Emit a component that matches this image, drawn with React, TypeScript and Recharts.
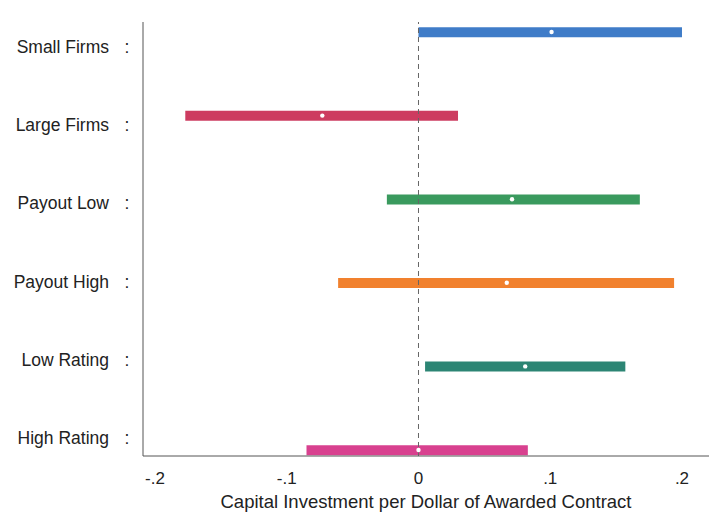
import {
  ComposedChart, Bar, Line, XAxis, YAxis, ReferenceLine, Cell,
} from 'recharts'

const groups = ['Small Firms', 'Large Firms', 'Payout Low', 'Payout High', 'Low Rating', 'High Rating']
const lows = [0.0, -0.177, -0.024, -0.061, 0.005, -0.085]
const highs = [0.2, 0.03, 0.168, 0.194, 0.157, 0.083]
const estimates = [0.101, -0.073, 0.071, 0.067, 0.081, 0.0]
const colors = ['#3f7cc8', '#cd3c60', '#3a9a5e', '#f1812e', '#2c8574', '#d8418f']
const xTicks = [-0.2, -0.1, 0, 0.1, 0.2]
const xTickLabels = ['-.2', '-.1', '0', '.1', '.2']

const data = groups.map((g, i) => ({
  pos: i,
  name: g,
  range: [lows[i], highs[i]],
  est: estimates[i],
}))

const font = '"Liberation Sans", Arial, sans-serif'

function GroupTick({ x, y, payload }: any) {
  const name = groups[payload.value]
  if (name === undefined) return null
  return (
    <g fontFamily={font} fontSize={17.5} fill="#222">
      <text x={x - 26} y={y} textAnchor="end" dominantBaseline="central">{name}</text>
      <text x={x - 8} y={y} textAnchor="middle" dominantBaseline="central">:</text>
    </g>
  )
}

export default function App() {
  return (
    <div style={{ position: 'absolute', left: 0, top: 0, background: '#fff' }}>
      <ComposedChart
        width={709}
        height={515}
        data={data}
        layout="vertical"
        margin={{ top: 22, right: 0, left: 0, bottom: 0 }}
      >
        <XAxis
          type="number"
          domain={[-0.2091, 0.2205]}
          ticks={xTicks}
          tickFormatter={(v: number) => xTickLabels[xTicks.indexOf(v)] ?? String(v)}
          allowDataOverflow
          tickLine={false}
          axisLine={{ stroke: '#555', strokeWidth: 1 }}
          tick={{ fill: '#222', fontSize: 17, fontFamily: font }}
          tickMargin={10}
          height={59}
          label={{
            value: 'Capital Investment per Dollar of Awarded Contract',
            position: 'insideBottom',
            offset: 7,
            fill: '#222',
            fontSize: 18.5,
            fontFamily: font,
          }}
        />
        <YAxis
          yAxisId={0}
          type="number"
          dataKey="pos"
          domain={[-0.12, 5.072]}
          allowDataOverflow
          width={0}
          hide
        />
        <YAxis
          yAxisId="lab"
          type="number"
          dataKey="pos"
          domain={[-0.32, 5.23]}
          allowDataOverflow
          ticks={[0, 1, 2, 3, 4, 5]}
          interval={0}
          width={143}
          tickLine={false}
          axisLine={{ stroke: '#555', strokeWidth: 1 }}
          tick={<GroupTick />}
        />
        <ReferenceLine x={0} stroke="#666" strokeDasharray="5 4" strokeWidth={1} />
        <Bar dataKey="range" barSize={10} isAnimationActive={false}>
          {data.map((d, i) => (
            <Cell key={d.name} fill={colors[i]} />
          ))}
        </Bar>
        <Line
          dataKey="est"
          stroke="none"
          dot={{ r: 2.2, fill: '#fff', stroke: 'none' }}
          activeDot={false}
          isAnimationActive={false}
        />
        <Line
          yAxisId="lab"
          dataKey="est"
          stroke="none"
          dot={false}
          activeDot={false}
          legendType="none"
          isAnimationActive={false}
        />
      </ComposedChart>
    </div>
  )
}
